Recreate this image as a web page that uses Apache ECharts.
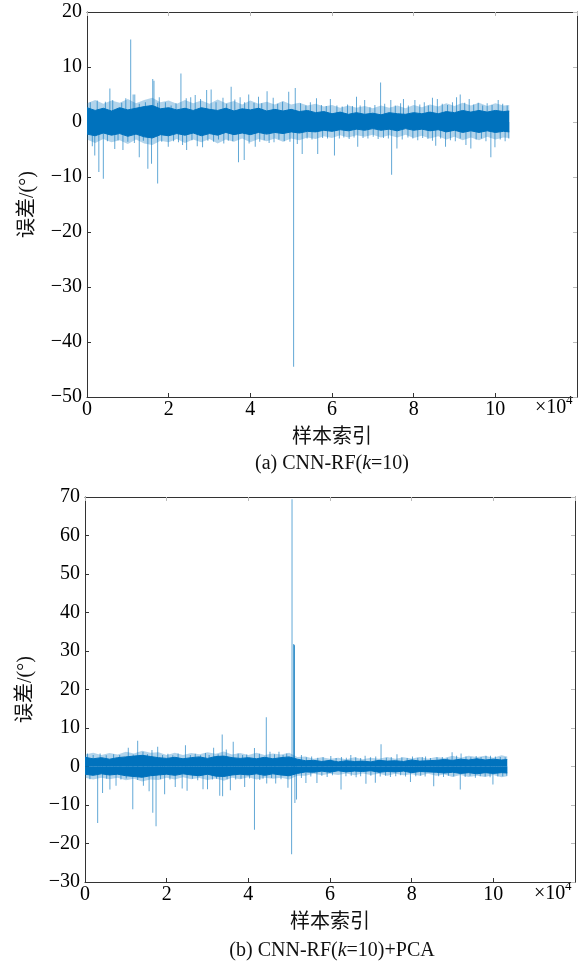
<!DOCTYPE html>
<html><head><meta charset="utf-8">
<script src="https://cdn.jsdelivr.net/npm/echarts@6/dist/echarts.min.js"></script>
<style>html,body{margin:0;padding:0;background:#fff}#c{width:584px;height:965px}</style>
</head><body><div id="c"></div>
<script>
// sample index positions of the envelope readings
const bandIdx = [0,2000,4000,6000,8000,10000,12000,14000,16000,18000,20000,22000,24000,26000,28000,30000,32000,34000,36000,38000,40000,42000,44000,46000,48000,50000,52000,54000,56000,58000,60000,62000,64000,66000,68000,70000,72000,74000,76000,78000,80000,82000,84000,86000,88000,90000,92000,94000,96000,98000,100000,102000,103400];

// (a) CNN-RF(k=10): dense core (deg)
const band1Hi = [2.6,2.1,2.5,2.0,2.6,2.2,2.5,2.8,3.0,2.4, 2.6,2.2,2.5,2.1,2.6,2.3,2.1,2.5,2.0,2.4, 2.2,2.5,2.0,2.3,2.0,2.3,1.9,2.1,1.7,1.9, 1.5,1.8,1.4,1.7,1.4,1.6,1.3,1.7,1.5,1.4, 1.7,1.5,1.8,1.5,1.9,1.7,2.1,1.8,2.1,1.8, 2.1,1.9,2.0];
const band1Lo = [-2.2,-2.5,-2.0,-2.4,-2.1,-2.6,-2.2,-2.7,-2.9,-2.3, -2.5,-2.1,-2.4,-2.0,-2.5,-2.1,-2.4,-1.9,-2.3,-2.0, -2.3,-1.9,-2.2,-1.9,-2.1,-1.8,-2.0,-1.7,-1.8,-1.5, -1.7,-1.4,-1.6,-1.3,-1.5,-1.2,-1.5,-1.3,-1.6,-1.2, -1.5,-1.3,-1.6,-1.4,-1.8,-1.5,-1.9,-1.6,-1.9,-1.6, -1.9,-1.7,-1.8];
// (a) sparse fringe (deg)
const fringe1Hi = [3.4,4.0,3.3,3.9,3.5,4.2,3.4,4.0,4.4,3.6, 3.9,3.3,4.0,3.4,3.9,3.3,4.1,3.4,3.8,3.2, 3.9,3.3,3.7,3.2,3.8,3.2,3.5,3.0,3.3,2.8, 3.1,2.6,3.0,2.6,2.9,2.5,3.0,2.6,3.0,2.5, 3.1,2.7,3.2,2.8,3.4,2.9,3.5,3.0,3.5,2.9, 3.4,3.0,3.1];
const fringe1Lo = [-3.2,-3.8,-3.1,-3.7,-3.3,-4.0,-3.2,-3.9,-4.2,-3.4, -3.7,-3.1,-3.8,-3.2,-3.7,-3.1,-3.9,-3.2,-3.6,-3.0, -3.7,-3.1,-3.5,-3.0,-3.6,-3.0,-3.3,-2.8,-3.1,-2.6, -2.9,-2.4,-2.8,-2.4,-2.7,-2.3,-2.8,-2.4,-2.8,-2.3, -2.9,-2.5,-3.0,-2.6,-3.2,-2.7,-3.3,-2.8,-3.3,-2.7, -3.2,-2.8,-2.9];
// (a) individual excursions [sample index, error]
const spikes1Up = [[800,3.6],[2500,3.9],[4500,3.7],[5600,6.1],[6300,4.0],[8500,3.5],[9500,4.3],[10700,15.0],[11300,5.0],[11700,5.0],[12800,3.3],[14300,3.6],[16100,7.8],[16400,7.5],[17300,3.5],[17700,4.5],[19200,3.6],[20600,3.0],[21800,3.4],[23000,8.8],[24300,4.3],[25400,4.5],[26500,4.9],[27800,4.2],[29300,5.8],[30400,5.9],[31600,3.6],[33300,4.4],[34200,3.3],[35300,6.4],[36200,4.1],[37500,4.5],[38600,3.6],[39600,5.0],[40900,3.5],[42000,4.6],[42800,3.4],[44100,5.6],[45600,4.4],[46700,3.3],[47900,3.7],[49400,5.5],[51000,6.2],[52300,3.4],[53600,3.0],[54700,3.6],[56200,4.3],[57400,3.1],[58600,2.9],[59600,4.2],[61200,3.0],[62500,2.8],[63800,3.2],[65000,2.9],[66000,4.6],[66900,3.0],[68000,4.0],[69300,2.7],[70500,3.1],[71900,7.2],[72900,3.3],[74400,4.0],[75500,3.0],[76800,3.4],[77500,4.2],[78700,3.0],[80300,4.0],[81500,3.2],[82600,3.6],[83600,3.0],[84600,4.4],[85800,4.2],[87000,3.3],[88300,3.1],[89500,3.6],[90500,4.5],[91400,5.0],[92500,3.5],[93600,4.2],[94700,3.2],[95800,3.5],[96900,3.0],[98000,3.4],[99200,3.1],[100700,4.0],[101800,3.3],[102900,3.0]];
const spikes1Down = [[1300,-4.4],[1900,-6.1],[2900,-9.1],[4000,-10.3],[5000,-3.5],[6800,-4.9],[7600,-3.3],[8800,-5.1],[10000,-3.6],[11600,-3.8],[12800,-6.4],[13800,-3.4],[14900,-8.5],[15800,-7.6],[17300,-11.2],[18300,-3.6],[19900,-4.5],[21200,-3.5],[22400,-3.7],[23400,-4.2],[24400,-5.1],[25700,-3.3],[27000,-4.4],[28300,-4.6],[29600,-3.4],[31000,-3.6],[32200,-3.2],[33500,-3.9],[34600,-3.4],[35700,-3.5],[37100,-7.3],[38500,-6.9],[39700,-3.9],[41200,-4.5],[42300,-3.6],[43400,-3.3],[44600,-3.8],[45800,-3.7],[47000,-3.2],[48300,-3.5],[49700,-3.6],[50600,-44.5],[51500,-4.0],[52700,-5.8],[53900,-3.0],[55100,-3.2],[56500,-5.8],[57700,-2.9],[58900,-3.0],[60600,-6.1],[61800,-3.0],[62900,-2.8],[64200,-3.1],[65400,-2.8],[66300,-4.5],[67600,-2.9],[68800,-3.0],[70100,-2.7],[71300,-3.1],[72600,-2.9],[73800,-3.0],[74600,-9.6],[75900,-4.8],[77200,-3.2],[78600,-2.8],[79800,-3.0],[81000,-3.3],[82200,-2.9],[83500,-3.1],[84600,-3.4],[85400,-4.3],[86600,-3.0],[87800,-4.5],[89000,-3.3],[90200,-3.5],[91400,-3.0],[92800,-4.2],[94000,-4.8],[95300,-3.2],[96600,-3.0],[97700,-3.5],[98900,-6.4],[99900,-4.6],[101200,-3.2],[102400,-3.5],[103300,-3.0]];

// (b) CNN-RF(k=10)+PCA: dense core (deg)
const band2Hi = [2.4,2.0,2.3,1.9,2.3,2.5,2.7,2.9,2.6,2.3, 2.1,2.4,2.0,2.3,2.5,2.1,2.6,2.7,2.3,2.1, 2.3,2.0,2.4,2.0,2.3,2.5,1.9,1.5,1.6,1.3, 1.6,1.2,1.5,1.3,1.4,1.2,1.6,1.4,1.5,1.3, 1.7,1.4,1.5,1.6,1.8,1.6,1.9,1.7,2.0,1.7, 1.9,1.7,1.8];
const band2Lo = [-2.0,-2.3,-1.9,-2.2,-2.0,-2.4,-2.6,-2.8,-2.4,-2.2, -2.0,-2.3,-1.9,-2.2,-2.4,-2.0,-2.5,-2.6,-2.2,-2.0, -2.2,-1.9,-2.3,-1.9,-2.2,-2.4,-1.8,-1.4,-1.5,-1.2, -1.5,-1.1,-1.4,-1.2,-1.3,-1.1,-1.5,-1.3,-1.4,-1.2, -1.6,-1.3,-1.4,-1.5,-1.7,-1.5,-1.8,-1.6,-1.9,-1.6, -1.8,-1.6,-1.7];
// (b) sparse fringe (deg)
const fringe2Hi = [3.1,3.6,3.0,3.5,3.1,3.8,3.4,4.1,3.6,3.7, 3.0,3.6,3.0,3.5,3.2,3.7,3.3,3.9,3.1,3.5, 3.0,3.6,3.0,3.4,3.1,3.6,2.5,2.6,2.0,2.4, 2.0,2.3,1.9,2.4,1.9,2.3,2.0,2.5,2.0,2.4, 2.1,2.5,2.0,2.5,2.2,2.8,2.3,2.8,2.5,2.8, 2.3,2.9,2.6];
const fringe2Lo = [-2.9,-3.4,-2.9,-3.3,-2.9,-3.6,-3.2,-3.9,-3.4,-3.5, -2.9,-3.4,-2.8,-3.3,-3.0,-3.5,-3.1,-3.7,-2.9,-3.3, -2.8,-3.4,-2.9,-3.2,-2.9,-3.4,-2.4,-2.4,-1.9,-2.3, -1.9,-2.2,-1.8,-2.3,-1.8,-2.2,-1.9,-2.4,-1.9,-2.3, -2.0,-2.4,-1.9,-2.4,-2.1,-2.7,-2.2,-2.7,-2.4,-2.7, -2.2,-2.8,-2.5];
const spikes2Up = [[600,3.4],[2000,3.0],[3700,3.4],[5200,2.9],[7000,3.2],[8500,3.0],[10600,4.9],[11800,3.1],[12900,6.7],[14200,3.8],[15300,3.2],[16400,4.3],[17800,5.1],[19000,3.0],[20300,3.3],[21500,2.9],[22800,3.4],[24600,5.5],[25800,3.0],[27000,3.3],[28300,2.9],[29500,3.5],[30400,3.0],[31500,4.9],[32600,3.2],[33600,8.3],[34600,4.4],[36300,6.4],[37500,3.4],[38600,3.0],[39600,3.1],[41500,4.8],[42700,3.3],[44400,12.8],[45300,3.8],[46400,3.2],[47500,3.8],[48500,3.0],[49400,3.4],[50700,69.4],[51100,31.8],[51200,31.6],[51300,31.5],[53000,3.0],[54200,2.4],[55500,2.6],[57000,2.3],[58300,2.5],[60200,2.7],[61500,2.2],[62800,2.5],[64000,2.3],[65100,3.0],[66300,2.4],[67500,2.2],[68600,2.8],[69900,2.4],[71200,2.6],[72500,5.8],[73800,2.3],[75000,2.5],[76400,3.2],[77600,2.4],[78900,2.2],[80200,2.6],[81500,2.3],[82600,2.5],[83400,2.6],[84600,2.2],[86200,2.4],[87500,2.5],[88700,2.3],[89900,3.7],[91000,2.8],[92100,3.4],[93300,2.6],[94500,2.4],[95800,2.7],[97000,2.5],[98200,2.8],[99300,2.8],[100500,2.6],[101700,2.5],[102900,2.4]];
const spikes2Down = [[1200,-3.3],[3100,-14.7],[4300,-6.9],[5300,-3.2],[6100,-6.0],[7600,-5.0],[8800,-3.4],[10100,-3.1],[11700,-11.1],[12900,-3.5],[14300,-5.0],[15700,-6.4],[16600,-12.0],[17400,-15.5],[18500,-3.3],[19500,-7.2],[20800,-3.4],[22100,-5.3],[23800,-5.7],[25000,-6.3],[26300,-3.2],[27600,-3.6],[28900,-5.9],[30000,-5.9],[31200,-3.4],[32200,-3.2],[33000,-7.6],[33700,-7.7],[34800,-3.3],[35600,-6.2],[36900,-3.4],[38200,-3.2],[39100,-5.3],[40300,-3.1],[41500,-16.4],[42800,-3.5],[43600,-3.2],[44500,-4.4],[45700,-3.0],[46700,-4.4],[48000,-3.3],[49700,-5.5],[50600,-22.8],[51400,-9.5],[51800,-8.6],[53000,-3.0],[54100,-4.3],[55300,-2.6],[56800,-4.3],[58000,-2.4],[59300,-2.7],[60600,-2.3],[62700,-6.0],[63900,-2.5],[65200,-2.4],[66400,-2.8],[67500,-2.5],[68800,-4.5],[70000,-2.4],[71100,-4.2],[72300,-2.6],[73600,-2.4],[74800,-2.7],[76100,-2.5],[77300,-2.3],[78500,-2.6],[79700,-4.0],[81000,-2.5],[82200,-2.4],[83300,-2.6],[85400,-5.1],[86600,-2.5],[87800,-2.7],[89000,-2.4],[90300,-2.6],[91900,-6.0],[93100,-2.7],[94300,-2.4],[95600,-2.9],[96800,-2.5],[98000,-2.6],[99200,-2.8],[99900,-4.7],[101100,-2.6],[102300,-2.5],[103300,-2.4]];

const xName = '样本索引';
const yName = '误差/(°)';
const captionA = ['(a) CNN-RF(', 'k', '=10)'];
const captionB = ['(b) CNN-RF(', 'k', '=10)+PCA'];
const yRange1 = [-50, 20];
const yRange2 = [-30, 70];
const xRange = [0, 120000];

const SERIF = 'Liberation Serif';
const MIXED = 'Liberation Serif, Noto Sans CJK SC';
const BLUE = '#0072BD';
const AX = '#333333';
const minus = v => String(v).replace('-', '\u2212');

const chart = echarts.init(document.getElementById('c'), null, {renderer: 'canvas'});

const grids = [
  {left: 87, top: 12, width: 490, height: 385},
  {left: 85, top: 497, width: 490, height: 385}
];

function xAxes(gi) {
  return [{
    type: 'value', gridIndex: gi, position: 'bottom', min: xRange[0], max: xRange[1], interval: 20000,
    axisLine: {show: true, onZero: false, lineStyle: {color: AX, width: 1}},
    axisTick: {show: true, inside: true, length: 4, lineStyle: {color: AX}},
    splitLine: {show: false},
    axisLabel: {color: '#000', fontFamily: SERIF, fontSize: 20, margin: 3,
      formatter: v => v >= 110000 ? '' : String(v / 10000)},
    name: xName, nameLocation: 'middle', nameGap: 31,
    nameTextStyle: {color: '#111', fontFamily: MIXED, fontSize: 20}
  }, {
    type: 'value', gridIndex: gi, position: 'top', min: xRange[0], max: xRange[1], interval: 20000,
    axisLine: {show: true, onZero: false, lineStyle: {color: AX, width: 1}},
    axisTick: {show: true, inside: true, length: 4, lineStyle: {color: '#bbb'}},
    splitLine: {show: false}, axisLabel: {show: false}
  }];
}
function yAxes(gi, r) {
  return [{
    type: 'value', gridIndex: gi, position: 'left', min: r[0], max: r[1], interval: 10,
    axisLine: {show: true, onZero: false, lineStyle: {color: AX, width: 1}},
    axisTick: {show: true, inside: true, length: 4, lineStyle: {color: AX}},
    splitLine: {show: false},
    axisLabel: {color: '#000', fontFamily: SERIF, fontSize: 20, margin: 5, formatter: minus},
    name: yName, nameLocation: 'middle', nameRotate: 90, nameGap: 49,
    nameTextStyle: {color: '#111', fontFamily: MIXED, fontSize: 20}
  }, {
    type: 'value', gridIndex: gi, position: 'right', min: r[0], max: r[1], interval: 10,
    axisLine: {show: true, onZero: false, lineStyle: {color: AX, width: 1}},
    axisTick: {show: true, inside: true, length: 4, lineStyle: {color: '#bbb'}},
    splitLine: {show: false}, axisLabel: {show: false}
  }];
}

function areaSeries(vals, xi, yi, color, lineW, z) {
  return {
    type: 'line', xAxisIndex: xi, yAxisIndex: yi, symbol: 'none', silent: true, z: z,
    data: bandIdx.map((x, i) => [x, vals[i]]),
    lineStyle: {color: color, width: lineW},
    areaStyle: {color: color, opacity: 1}
  };
}
function spikeSeries(up, down, xi, yi) {
  return {
    type: 'bar', xAxisIndex: xi, yAxisIndex: yi, barWidth: 1, silent: true, z: 2,
    data: up.concat(down).sort((a, b) => a[0] - b[0]),
    itemStyle: {color: 'rgba(0,114,189,0.62)'}
  };
}

function caption(parts, cx, cy) {
  return {
    type: 'text', x: cx, y: cy,
    style: {
      text: '{n|' + parts[0] + '}{i|' + parts[1] + '}{n|' + parts[2] + '}',
      align: 'center', verticalAlign: 'middle',
      rich: {
        n: {fontFamily: SERIF, fontSize: 20, fill: '#111'},
        i: {fontFamily: SERIF, fontSize: 20, fontStyle: 'italic', fill: '#111'}
      }
    }
  };
}
function expo(x, y) {
  return [
    {type: 'text', x: x, y: y, style: {text: '×10', fontFamily: SERIF, fontSize: 20, fill: '#000', verticalAlign: 'middle'}},
    {type: 'text', x: x + 31, y: y - 7, style: {text: '4', fontFamily: SERIF, fontSize: 13, fill: '#000', verticalAlign: 'middle'}}
  ];
}

const HALO = 'rgba(0,114,189,0.3)';
chart.setOption({
  animation: false,
  backgroundColor: '#fff',
  grid: grids,
  xAxis: xAxes(0).concat(xAxes(1)),
  yAxis: yAxes(0, yRange1).concat(yAxes(1, yRange2)),
  series: [
    areaSeries(fringe1Hi, 0, 0, HALO, 0, 1),
    areaSeries(fringe1Lo, 0, 0, HALO, 0, 1),
    spikeSeries(spikes1Up, spikes1Down, 0, 0),
    areaSeries(band1Hi, 0, 0, BLUE, 1, 3),
    areaSeries(band1Lo, 0, 0, BLUE, 1, 3),
    areaSeries(fringe2Hi, 2, 2, HALO, 0, 1),
    areaSeries(fringe2Lo, 2, 2, HALO, 0, 1),
    spikeSeries(spikes2Up, spikes2Down, 2, 2),
    areaSeries(band2Hi, 2, 2, BLUE, 1, 3),
    areaSeries(band2Lo, 2, 2, BLUE, 1, 3)
  ],
  graphic: [
    caption(captionA, 332, 464),
    caption(captionB, 332, 951)
  ].concat(expo(535, 408)).concat(expo(534, 894))
});
</script>
</body></html>
